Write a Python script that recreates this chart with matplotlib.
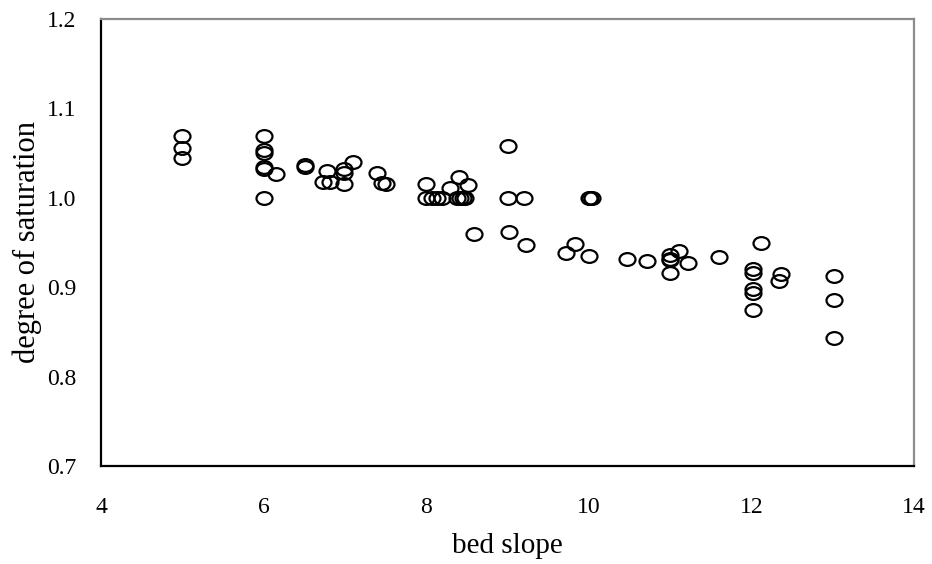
import matplotlib
matplotlib.use("Agg")
import matplotlib.pyplot as plt
from matplotlib.path import Path
from matplotlib.transforms import Affine2D

bed_slope = [5, 5, 5,
             6, 6, 6, 6, 6, 6, 6.15,
             6.51, 6.51, 6.73, 6.82, 6.78,
             6.99, 6.99, 6.99, 7.10, 7.40, 7.46, 7.50,
             8.0, 8.0, 8.07, 8.13, 8.2, 8.38, 8.42, 8.45, 8.48,
             8.29, 8.40, 8.51, 8.59,
             9.01, 9.0, 9.20, 9.02, 9.23, 9.72, 9.83,
             10.0, 10.02, 10.04, 10.0, 10.47, 10.71,
             11.0, 11.0, 11.0, 11.0, 11.11, 11.22, 11.60,
             12.12, 12.02, 12.02, 12.02, 12.02, 12.02, 12.37, 12.34,
             13.02, 13.02, 13.02]
saturation = [1.069, 1.056, 1.044,
              1.069, 1.054, 1.050, 1.035, 1.032, 1.000, 1.027,
              1.037, 1.034, 1.018, 1.018, 1.030,
              1.032, 1.028, 1.015, 1.040, 1.028, 1.017, 1.015,
              1.015, 1.000, 1.000, 1.000, 1.000, 1.000, 1.000, 1.000, 1.000,
              1.011, 1.023, 1.014, 0.960,
              1.058, 1.000, 1.000, 0.962, 0.947, 0.938, 0.948,
              1.000, 1.000, 1.000, 0.935, 0.932, 0.929,
              0.936, 0.932, 0.930, 0.916, 0.941, 0.927, 0.934,
              0.949, 0.920, 0.916, 0.898, 0.894, 0.875, 0.915, 0.907,
              0.912, 0.886, 0.843]

x_ticks = [4, 6, 8, 10, 12, 14]
y_ticks = [0.7, 0.8, 0.9, 1.0, 1.1, 1.2]

plt.rcParams['font.family'] = ['Liberation Serif', 'DejaVu Serif']

fig = plt.figure(figsize=(9.32, 5.64), dpi=100)
ax = fig.add_axes([0.1084, 0.1738, 0.9807 - 0.1084, 0.9663 - 0.1738])

ellipse = Path.unit_circle().transformed(Affine2D().scale(1.25, 1.0))
ax.plot(bed_slope, saturation, linestyle='none', marker=ellipse,
        markersize=11.5, markerfacecolor='none', markeredgecolor='black',
        markeredgewidth=1.6)

ax.set_xlim(4, 14)
ax.set_ylim(0.7, 1.2)
ax.set_xticks(x_ticks)
ax.set_xticklabels([str(v) for v in x_ticks], fontsize=17)
ax.set_yticks(y_ticks)
ax.set_yticklabels([f"{v:.1f}" for v in y_ticks], fontsize=17)
ax.tick_params(axis='x', length=0, pad=22)
ax.tick_params(axis='y', length=0, pad=18)

for s in ['left', 'bottom']:
    ax.spines[s].set_color('black')
    ax.spines[s].set_linewidth(1.6)
for s in ['top', 'right']:
    ax.spines[s].set_color('#8c8c8c')
    ax.spines[s].set_linewidth(1.6)

ax.set_xlabel('bed slope', fontsize=21, labelpad=11)
ax.set_ylabel('degree of saturation', fontsize=22, labelpad=3)

fig.savefig('out.png', dpi=100)
